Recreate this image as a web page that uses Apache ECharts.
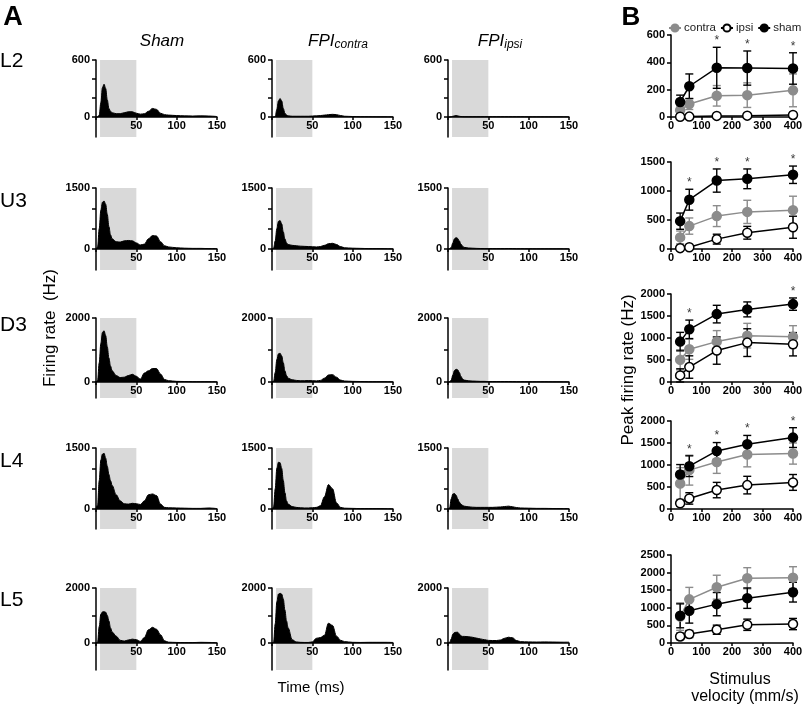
<!DOCTYPE html>
<html>
<head>
<meta charset="utf-8">
<script src="https://cdn.jsdelivr.net/npm/echarts@6/dist/echarts.min.js"></script>
<style>
  html, body { margin: 0; background: #fff; }
  #chart { width: 810px; height: 705px; }
</style>
</head>
<body>
<div id="chart"></div>
<script>
// ---- A: PSTH, firing rate (Hz) vs time (ms) ----
const timeMs = [0, 2, 4, 6, 8, 10, 12, 14, 16, 18, 20, 25, 30, 35, 40, 45, 50, 55, 60, 65, 70, 75, 80, 85, 90, 100, 110, 120, 130, 140, 150]

const L2_sham   = [0, 0, 20, 150, 310, 345, 300, 180, 90, 60, 45, 35, 35, 45, 55, 55, 40, 30, 35, 60, 90, 80, 40, 25, 20, 15, 12, 10, 12, 10, 5]
const L2_contra = [0, 0, 5, 80, 170, 195, 170, 90, 40, 20, 12, 8, 8, 8, 8, 8, 10, 12, 15, 20, 25, 28, 25, 15, 8, 5, 3, 3, 2, 2, 2]
const L2_ipsi   = [0, 0, 2, 8, 12, 15, 12, 8, 5, 4, 3, 3, 3, 3, 3, 3, 3, 3, 3, 3, 3, 3, 3, 3, 3, 2, 2, 2, 2, 2, 2]

const U3_sham   = [0, 50, 500, 950, 1150, 1180, 1100, 850, 550, 350, 250, 180, 170, 200, 210, 200, 150, 100, 120, 250, 330, 320, 180, 80, 50, 30, 20, 15, 15, 10, 10]
const U3_contra = [0, 20, 200, 500, 680, 700, 620, 420, 250, 150, 110, 90, 80, 70, 65, 60, 55, 50, 60, 90, 130, 140, 110, 60, 30, 20, 15, 10, 10, 8, 5]
const U3_ipsi   = [0, 5, 40, 150, 250, 280, 260, 200, 120, 70, 40, 25, 20, 15, 12, 10, 10, 10, 10, 10, 10, 12, 10, 8, 8, 6, 5, 5, 5, 5, 5]

const D3_sham   = [0, 50, 600, 1200, 1550, 1600, 1450, 1100, 750, 500, 350, 200, 140, 150, 200, 240, 180, 90, 280, 350, 420, 420, 250, 80, 40, 20, 15, 10, 10, 10, 8]
const D3_contra = [0, 20, 300, 700, 880, 900, 820, 600, 350, 200, 120, 70, 50, 40, 40, 45, 40, 35, 50, 120, 220, 230, 150, 60, 30, 20, 15, 10, 10, 10, 8]
const D3_ipsi   = [0, 5, 60, 220, 360, 400, 380, 300, 180, 100, 60, 40, 30, 25, 20, 20, 15, 15, 15, 15, 15, 15, 12, 10, 10, 8, 8, 8, 6, 6, 5]

const L4_sham   = [0, 100, 700, 1200, 1350, 1370, 1250, 1050, 850, 700, 580, 350, 200, 130, 120, 140, 130, 110, 200, 350, 370, 330, 120, 40, 30, 25, 20, 15, 15, 25, 10]
const L4_contra = [0, 50, 500, 1000, 1150, 1140, 1000, 700, 400, 200, 120, 60, 40, 30, 25, 25, 30, 40, 80, 300, 600, 500, 150, 40, 20, 15, 10, 10, 10, 8, 5]
const L4_ipsi   = [0, 30, 250, 370, 380, 340, 250, 170, 120, 90, 70, 55, 45, 40, 40, 40, 40, 40, 45, 50, 60, 70, 55, 35, 25, 20, 15, 15, 12, 10, 10]

const L5_sham   = [0, 30, 600, 1050, 1130, 1140, 1120, 1000, 800, 550, 400, 250, 100, 70, 110, 140, 120, 60, 200, 480, 570, 500, 300, 80, 30, 20, 15, 15, 25, 20, 10]
const L5_contra = [0, 30, 700, 1500, 1780, 1810, 1780, 1600, 1200, 800, 550, 120, 40, 25, 20, 20, 40, 170, 200, 280, 720, 640, 250, 100, 50, 25, 20, 25, 25, 25, 20]
const L5_ipsi   = [0, 20, 150, 320, 380, 390, 390, 330, 260, 240, 240, 230, 210, 180, 150, 120, 95, 90, 90, 110, 170, 210, 190, 90, 50, 40, 35, 40, 35, 30, 30]

const layers = ['L2', 'U3', 'D3', 'L4', 'L5']
const histMax = [600, 1500, 2000, 1500, 2000]
const histTicks = [[0, 200, 400, 600], [0, 500, 1000, 1500], [0, 1000, 2000], [0, 500, 1000, 1500], [0, 1000, 2000]]
const histRows = [
  [L2_sham, L2_contra, L2_ipsi],
  [U3_sham, U3_contra, U3_ipsi],
  [D3_sham, D3_contra, D3_ipsi],
  [L4_sham, L4_contra, L4_ipsi],
  [L5_sham, L5_contra, L5_ipsi]
]
const stimWindow = [5, 50]

// ---- B: peak firing rate vs stimulus velocity ----
const velocity = [30, 60, 150, 250, 400]

const L2_contraPeak = [50, 95, 155, 160, 195],      L2_contraErr = [30, 40, 75, 90, 120]
const L2_ipsiPeak   = [2, 3, 8, 10, 15],            L2_ipsiErr   = [3, 3, 5, 5, 8]
const L2_shamPeak   = [110, 225, 360, 358, 355],    L2_shamErr   = [50, 90, 150, 125, 115]

const U3_contraPeak = [200, 395, 567, 640, 670],    U3_contraErr = [110, 140, 180, 200, 240]
const U3_ipsiPeak   = [15, 30, 170, 280, 375],      U3_ipsiErr   = [10, 15, 85, 110, 190]
const U3_shamPeak   = [480, 850, 1180, 1210, 1280], U3_shamErr   = [140, 180, 200, 170, 150]

const D3_contraPeak = [504, 745, 918, 1053, 1030],  D3_contraErr = [230, 230, 250, 280, 250]
const D3_ipsiPeak   = [150, 340, 714, 895, 858],    D3_ipsiErr   = [150, 255, 310, 315, 265]
const D3_shamPeak   = [918, 1197, 1543, 1650, 1770], D3_shamErr  = [210, 210, 200, 170, 140]

const L4_contraPeak = [580, 883, 1070, 1238, 1260], L4_contraErr = [360, 340, 260, 280, 240]
const L4_ipsiPeak   = [130, 240, 430, 543, 604],    L4_ipsiErr   = [60, 130, 175, 200, 180]
const L4_shamPeak   = [785, 973, 1320, 1472, 1623], L4_shamErr   = [225, 235, 190, 200, 225]

const L5_contraPeak = [750, 1240, 1585, 1840, 1857], L5_contraErr = [390, 340, 340, 300, 310]
const L5_ipsiPeak   = [187, 255, 377, 518, 538],    L5_ipsiErr   = [90, 100, 130, 160, 160]
const L5_shamPeak   = [772, 915, 1104, 1274, 1444], L5_shamErr   = [340, 350, 330, 290, 280]

const peakMax = [600, 1500, 2000, 2000, 2500]
const peakInterval = [200, 500, 500, 500, 500]
const starVelocity = [[150, 250, 400], [60, 150, 250, 400], [60, 400], [60, 150, 250, 400], []]
const peakRows = [
  [L2_contraPeak, L2_contraErr, L2_ipsiPeak, L2_ipsiErr, L2_shamPeak, L2_shamErr],
  [U3_contraPeak, U3_contraErr, U3_ipsiPeak, U3_ipsiErr, U3_shamPeak, U3_shamErr],
  [D3_contraPeak, D3_contraErr, D3_ipsiPeak, D3_ipsiErr, D3_shamPeak, D3_shamErr],
  [L4_contraPeak, L4_contraErr, L4_ipsiPeak, L4_ipsiErr, L4_shamPeak, L4_shamErr],
  [L5_contraPeak, L5_contraErr, L5_ipsiPeak, L5_ipsiErr, L5_shamPeak, L5_shamErr]
]

// ---- layout (px) ----
const rowTop = [60, 188, 318, 448, 588]
const rowZero = [117, 249, 382, 509, 643]
const rowBelow = [20, 21, 16, 20, 27]
const colLeft = [96, 272, 448]
const histWidth = 121
const peakTop = [35, 162, 294, 421, 555]
const peakLeft = 671
const peakWidth = 122

const GREY = '#8c8c8c'
const FONT = 'Liberation Sans, Arial'
const tickFont = { fontFamily: FONT, fontWeight: 'bold', fontSize: 11, color: '#000' }
const axisLineStyle = { color: '#000', width: 1.5 }

const chart = echarts.init(document.getElementById('chart'))

const grid = []
const xAxis = []
const yAxis = []
const series = []

// histogram panels
histRows.forEach((row, r) => {
  row.forEach((vals, c) => {
    const idx = grid.length
    const h0 = rowZero[r] - rowTop[r]
    grid.push({ left: colLeft[c], top: rowTop[r], width: histWidth, height: h0 + rowBelow[r] })
    xAxis.push({
      gridIndex: idx, type: 'value', min: 0, max: 150, interval: 50,
      offset: -rowBelow[r], z: 10,
      axisLine: { onZero: false, lineStyle: axisLineStyle },
      axisTick: { length: 3, lineStyle: { width: 1.5 } },
      axisLabel: { ...tickFont, margin: 3, formatter: v => (v === 0 ? '' : String(v)) },
      splitLine: { show: false }
    })
    yAxis.push({
      gridIndex: idx, type: 'value', max: histMax[r], z: 10,
      min: -histMax[r] * rowBelow[r] / h0,
      axisLine: { show: true, onZero: false, lineStyle: axisLineStyle },
      axisTick: { show: true, length: 4, customValues: histTicks[r], lineStyle: { width: 1.5 } },
      axisLabel: { ...tickFont, margin: 6, customValues: [0, histMax[r]], formatter: v => String(v) },
      splitLine: { show: false }
    })
    series.push({
      type: 'line', xAxisIndex: idx, yAxisIndex: idx,
      data: timeMs.map((t, i) => [t, vals[i]]),
      smooth: 0.35, smoothMonotone: 'x', showSymbol: false, silent: true,
      lineStyle: { color: '#000', width: 1 },
      areaStyle: { color: '#000', opacity: 1 },
      markArea: {
        silent: true,
        itemStyle: { color: '#d9d9d9' },
        data: [[{ xAxis: stimWindow[0] }, { xAxis: stimWindow[1] }]]
      },
      z: 3
    })
  })
})

// peak firing rate panels
const errBarSeries = (idx, means, errs, color) => ({
  type: 'custom', xAxisIndex: idx, yAxisIndex: idx, silent: true,
  data: velocity.map((v, i) => [v, Math.max(0, means[i] - errs[i]), means[i] + errs[i]]),
  encode: { x: 0, y: [1, 2] },
  renderItem: (params, api) => {
    const lo = api.coord([api.value(0), api.value(1)])
    const hi = api.coord([api.value(0), api.value(2)])
    const cw = 4
    const style = { stroke: color, lineWidth: 1.4 }
    return {
      type: 'group',
      children: [
        { type: 'line', shape: { x1: lo[0], y1: lo[1], x2: hi[0], y2: hi[1] }, style },
        { type: 'line', shape: { x1: hi[0] - cw, y1: hi[1], x2: hi[0] + cw, y2: hi[1] }, style },
        { type: 'line', shape: { x1: lo[0] - cw, y1: lo[1], x2: lo[0] + cw, y2: lo[1] }, style }
      ]
    }
  }
})

const groupStyles = {
  contra: { line: GREY, fill: GREY, border: GREY, bar: GREY },
  ipsi: { line: '#000', fill: '#fff', border: '#000', bar: '#000' },
  sham: { line: '#000', fill: '#000', border: '#000', bar: '#000' }
}

peakRows.forEach((row, r) => {
  const idx = grid.length
  grid.push({ left: peakLeft, top: peakTop[r], width: peakWidth, height: rowZero[r] - peakTop[r] })
  xAxis.push({
    gridIndex: idx, type: 'value', min: 0, max: 400, interval: 100,
    axisLine: { lineStyle: axisLineStyle },
    axisTick: { length: 3, lineStyle: { width: 1.5 } },
    axisLabel: { ...tickFont, margin: 3, formatter: v => String(v) },
    splitLine: { show: false }
  })
  yAxis.push({
    gridIndex: idx, type: 'value', min: 0, max: peakMax[r], interval: peakInterval[r],
    axisLine: { show: true, lineStyle: axisLineStyle },
    axisTick: { show: true, length: 4, lineStyle: { width: 1.5 } },
    axisLabel: { ...tickFont, margin: 6, formatter: v => String(v) },
    splitLine: { show: false }
  })
  const groups = [['contra', row[0], row[1]], ['ipsi', row[2], row[3]], ['sham', row[4], row[5]]]
  groups.forEach(([name, means, errs]) => {
    const st = groupStyles[name]
    series.push(errBarSeries(idx, means, errs, st.bar))
    series.push({
      name, type: 'line', xAxisIndex: idx, yAxisIndex: idx, silent: true,
      data: velocity.map((v, i) => [v, means[i]]),
      symbol: 'circle', symbolSize: 9,
      lineStyle: { color: st.line, width: 1.5 },
      itemStyle: { color: st.fill, borderColor: st.border, borderWidth: 1.5 },
      z: 4
    })
  })
  // significance stars, above the sham error bar
  const sham = row[4], shamErr = row[5]
  series.push({
    type: 'scatter', xAxisIndex: idx, yAxisIndex: idx, silent: true,
    data: starVelocity[r].map(v => {
      const i = velocity.indexOf(v)
      return [v, sham[i] + shamErr[i]]
    }),
    symbolSize: 1, itemStyle: { color: 'transparent' },
    label: { show: true, formatter: '*', position: 'top', distance: 0, fontSize: 12, fontFamily: FONT, color: '#000' },
    z: 5
  })
})

const txt = (text, x, y, font, extra) => ({
  type: 'text', x, y, silent: true,
  style: { text, font, fill: '#000', textAlign: 'center', textVerticalAlign: 'middle', ...extra }
})

const graphic = [
  txt('A', 13, 18, 'bold 27px ' + FONT),
  txt('B', 631, 18, 'bold 26px ' + FONT),
  txt('Sham', 162, 41, 'italic 17px ' + FONT),
  {
    type: 'text', x: 338, y: 41, silent: true,
    style: {
      text: '{a|FPI}{b|contra}', textAlign: 'center', textVerticalAlign: 'middle',
      rich: {
        a: { font: 'italic 17px ' + FONT, fill: '#000' },
        b: { font: 'italic 12px ' + FONT, fill: '#000', padding: [8, 0, 0, 0] }
      }
    }
  },
  {
    type: 'text', x: 500, y: 41, silent: true,
    style: {
      text: '{a|FPI}{b|ipsi}', textAlign: 'center', textVerticalAlign: 'middle',
      rich: {
        a: { font: 'italic 17px ' + FONT, fill: '#000' },
        b: { font: 'italic 12px ' + FONT, fill: '#000', padding: [8, 0, 0, 0] }
      }
    }
  },
  txt('Time (ms)', 311, 688, '15px ' + FONT),
  { ...txt('Firing rate  (Hz)', 50, 328, '17px ' + FONT), rotation: Math.PI / 2 },
  { ...txt('Peak firing rate (Hz)', 628, 370, '17px ' + FONT), rotation: Math.PI / 2 },
  txt('Stimulus', 740, 680, '16px ' + FONT),
  txt('velocity (mm/s)', 745, 697, '16px ' + FONT)
]
const rowLabelY = [61, 201, 325, 461, 600]
layers.forEach((name, r) => {
  graphic.push(txt(name, 0, rowLabelY[r], '21px ' + FONT, { textAlign: 'left' }))
})

chart.setOption({
  animation: false,
  backgroundColor: '#fff',
  legend: {
    data: ['contra', 'ipsi', 'sham'],
    left: 668, top: 22, padding: 0,
    itemWidth: 12, itemHeight: 9, itemGap: 4,
    textStyle: { fontFamily: FONT, fontSize: 11.5, color: '#222', padding: [0, 0, 0, -2] }
  },
  grid, xAxis, yAxis, series, graphic
})
</script>
</body>
</html>
